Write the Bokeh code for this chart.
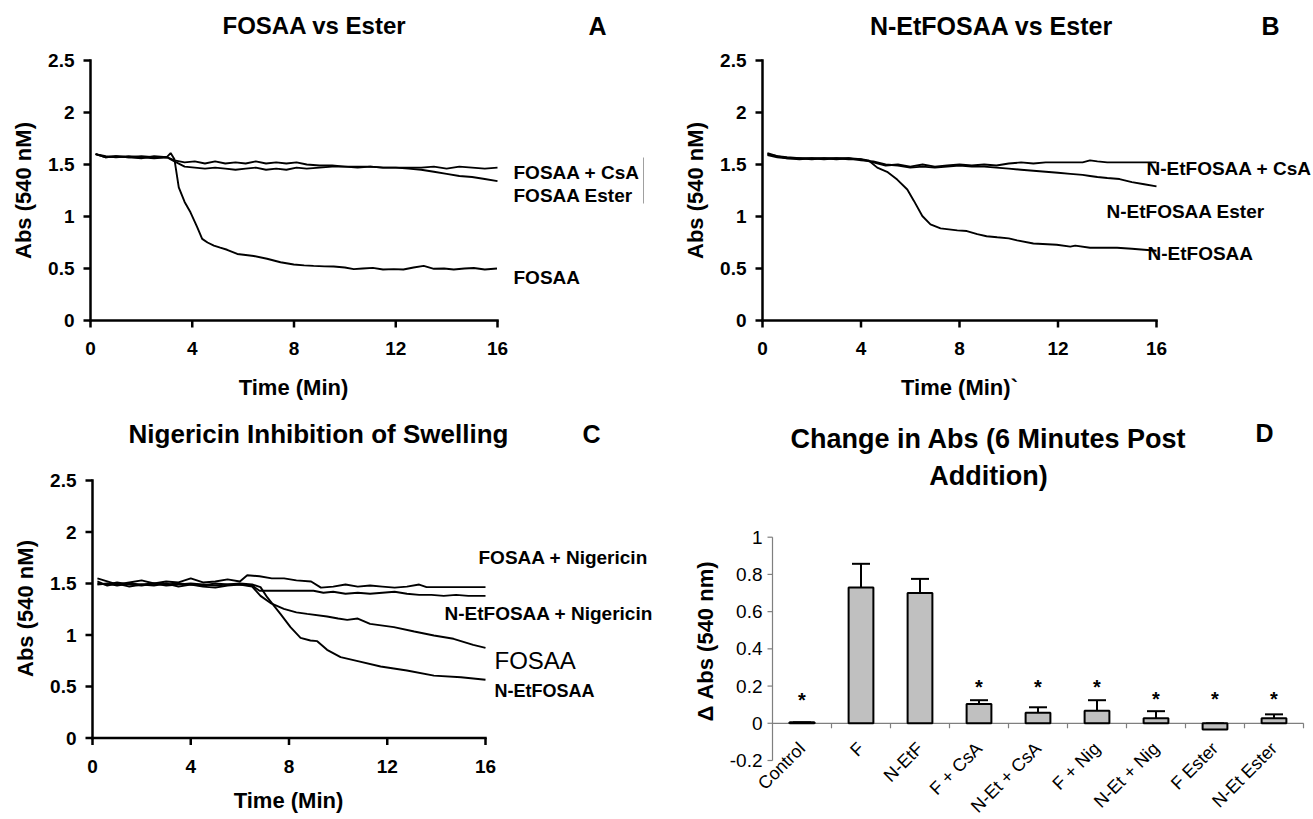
from math import pi
from bokeh.plotting import figure
from bokeh.layouts import column, row
from bokeh.models import Range1d, Label, Whisker, TeeHead, ColumnDataSource
from bokeh.core.properties import value
from bokeh.embed import file_html
from bokeh.resources import INLINE

FONT = "Liberation Sans"

# ---------------- data ----------------
x_ticks = [0, 4, 8, 12, 16]
x_tick_labels = ["0", "4", "8", "12", "16"]
y_ticks = [0, 0.5, 1, 1.5, 2, 2.5]
y_tick_labels = ["0", "0.5", "1", "1.5", "2", "2.5"]

# Panel A: FOSAA vs Ester
a_fosaa_t = [0.2, 0.6, 1.0, 1.5, 2.0, 2.5, 3.0, 3.15, 3.3, 3.47, 3.7, 3.93, 4.19, 4.39, 4.6,
             4.85, 5.1, 5.37, 5.77, 6.1, 6.42, 6.94, 7.47, 7.99, 8.4, 8.77, 9.2, 9.56, 10.0,
             10.35, 10.7, 11.1, 11.5, 11.92, 12.3, 12.7, 13.1, 13.5, 13.9, 14.28, 14.7, 15.07,
             15.5, 15.98]
a_fosaa_v = [1.60, 1.57, 1.58, 1.57, 1.58, 1.57, 1.57, 1.61, 1.55, 1.28, 1.14, 1.04, 0.90, 0.785,
             0.75, 0.72, 0.70, 0.68, 0.64, 0.63, 0.62, 0.594, 0.56, 0.538, 0.53, 0.525, 0.52,
             0.519, 0.51, 0.494, 0.50, 0.506, 0.49, 0.494, 0.49, 0.51, 0.525, 0.497, 0.50, 0.49,
             0.50, 0.505, 0.49, 0.50]
a_t = [0.2, 0.6, 1.0, 1.5, 2.0, 2.5, 3.0, 3.3, 3.7, 4.1, 4.5, 4.9, 5.3, 5.7, 6.1, 6.5, 6.9, 7.3,
       7.7, 8.1, 8.5, 9.0, 9.5, 10.0, 10.5, 11.0, 11.5, 12.0, 12.5, 13.0, 13.5, 14.0, 14.5, 15.0,
       15.5, 16.0]
a_csa_v = [1.60, 1.57, 1.58, 1.57, 1.56, 1.58, 1.57, 1.54, 1.52, 1.53, 1.51, 1.53, 1.51, 1.52,
           1.51, 1.53, 1.51, 1.52, 1.51, 1.52, 1.50, 1.49, 1.49, 1.48, 1.48, 1.48, 1.47, 1.47,
           1.47, 1.47, 1.48, 1.46, 1.48, 1.47, 1.46, 1.47]
a_ester_v = [1.60, 1.58, 1.57, 1.58, 1.57, 1.56, 1.57, 1.53, 1.48, 1.47, 1.46, 1.47, 1.46, 1.45,
             1.46, 1.47, 1.45, 1.46, 1.45, 1.47, 1.46, 1.47, 1.48, 1.48, 1.47, 1.48, 1.47, 1.47,
             1.46, 1.45, 1.43, 1.41, 1.39, 1.38, 1.36, 1.34]

# Panel B: N-EtFOSAA vs Ester
b_netf_t = [0.2, 0.6, 1.0, 1.5, 2.0, 2.5, 3.0, 3.5, 4.0, 4.3, 4.66, 5.06, 5.47, 5.88, 6.15, 6.49,
            6.82, 7.23, 7.91, 8.3, 8.72, 9.1, 9.53, 10.0, 10.34, 11.0, 11.95, 12.5, 12.7, 13.3,
            14.4, 15.0, 15.5, 16.0]
b_netf_v = [1.60, 1.58, 1.56, 1.56, 1.56, 1.56, 1.56, 1.56, 1.55, 1.54, 1.47, 1.43, 1.355, 1.26,
            1.15, 1.005, 0.925, 0.886, 0.867, 0.86, 0.83, 0.81, 0.80, 0.79, 0.77, 0.74, 0.728,
            0.71, 0.72, 0.70, 0.70, 0.69, 0.68, 0.67]
b_t = [0.2, 0.6, 1.0, 1.5, 2.0, 2.5, 3.0, 3.5, 4.0, 4.5, 5.0, 5.5, 6.0, 6.5, 7.0, 7.5, 8.0, 8.5,
       9.0, 9.5, 10.0, 10.5, 11.0, 11.5, 12.0, 12.5, 13.0, 13.3, 13.6, 14.0, 14.5, 15.0, 15.5,
       16.0]
b_csa_v = [1.59, 1.57, 1.56, 1.55, 1.56, 1.55, 1.56, 1.55, 1.55, 1.52, 1.49, 1.50, 1.48, 1.50,
           1.48, 1.49, 1.50, 1.49, 1.50, 1.49, 1.51, 1.52, 1.51, 1.52, 1.52, 1.52, 1.52, 1.54,
           1.53, 1.52, 1.52, 1.52, 1.52, 1.52]
b_ester_v = [1.61, 1.58, 1.57, 1.56, 1.55, 1.56, 1.55, 1.56, 1.54, 1.53, 1.50, 1.49, 1.47, 1.48,
             1.47, 1.48, 1.49, 1.48, 1.48, 1.47, 1.46, 1.45, 1.44, 1.43, 1.42, 1.41, 1.40, 1.39,
             1.38, 1.37, 1.36, 1.33, 1.31, 1.29]

# Panel C: Nigericin inhibition of swelling
c_fnig_t = [0.2, 0.6, 1.0, 1.5, 2.0, 2.5, 3.0, 3.5, 4.0, 4.5, 5.0, 5.5, 6.0, 6.3, 6.8, 7.3, 7.8,
            8.3, 8.9, 9.3, 9.8, 10.3, 10.8, 11.3, 11.8, 12.3, 12.8, 13.3, 13.6, 16.0]
c_fnig_v = [1.55, 1.52, 1.49, 1.51, 1.53, 1.50, 1.52, 1.51, 1.55, 1.51, 1.52, 1.54, 1.52, 1.58,
            1.57, 1.55, 1.55, 1.53, 1.52, 1.46, 1.47, 1.49, 1.47, 1.48, 1.47, 1.46, 1.47, 1.49,
            1.465, 1.465]
c_nnig_t = [0.2, 0.6, 1.0, 1.5, 2.0, 2.5, 3.0, 3.5, 4.0, 4.5, 5.0, 5.5, 6.0, 6.5, 6.8, 9.0, 9.4,
            9.8, 10.3, 10.8, 11.3, 11.8, 12.3, 12.8, 13.3, 13.8, 14.3, 14.8, 15.3, 16.0]
c_nnig_v = [1.52, 1.48, 1.50, 1.47, 1.49, 1.48, 1.50, 1.47, 1.49, 1.47, 1.46, 1.48, 1.49, 1.48,
            1.43, 1.43, 1.41, 1.42, 1.40, 1.41, 1.40, 1.41, 1.42, 1.40, 1.39, 1.39, 1.38, 1.39,
            1.38, 1.38]
c_fosaa_t = [0.2, 0.6, 1.0, 1.5, 2.0, 2.5, 3.0, 3.5, 4.0, 4.5, 5.0, 5.5, 6.0, 6.5, 6.84, 7.25,
             7.79, 8.3, 8.74, 9.55, 10.0, 10.37, 10.8, 11.3, 12.27, 13.1, 13.9, 14.7, 15.5, 16.0]
c_fosaa_v = [1.50, 1.49, 1.51, 1.49, 1.48, 1.50, 1.49, 1.50, 1.49, 1.48, 1.50, 1.49, 1.49, 1.47,
             1.38, 1.31, 1.254, 1.22, 1.205, 1.18, 1.16, 1.147, 1.16, 1.108, 1.076, 1.034, 0.995,
             0.963, 0.904, 0.875]
c_netf_t = [0.2, 0.6, 1.0, 1.5, 2.0, 2.5, 3.0, 3.5, 4.0, 4.5, 5.0, 5.5, 6.0, 6.5, 6.84, 7.11,
            7.65, 8.06, 8.47, 8.87, 9.15, 9.55, 10.1, 10.8, 11.73, 12.8, 13.9, 15.0, 16.0]
c_netf_v = [1.49, 1.50, 1.48, 1.50, 1.49, 1.50, 1.48, 1.49, 1.50, 1.49, 1.48, 1.49, 1.50, 1.49,
            1.465, 1.367, 1.205, 1.076, 0.972, 0.947, 0.94, 0.856, 0.785, 0.746, 0.694, 0.655,
            0.606, 0.59, 0.565]

# Panel D: change in Abs (6 minutes post addition)
d_categories = ["Control", "F", "N-EtF", "F + CsA", "N-Et + CsA", "F + Nig", "N-Et + Nig",
                "F Ester", "N-Et Ester"]
d_values = [0.005, 0.73, 0.70, 0.104, 0.056, 0.067, 0.027, -0.034, 0.027]
d_errors = [0.0, 0.127, 0.076, 0.02, 0.03, 0.057, 0.038, 0.034, 0.021]
d_star_y = [0.125, float("nan"), float("nan"), 0.195, 0.195, 0.195, 0.13, 0.13, 0.13]
d_y_ticks = [-0.2, 0, 0.2, 0.4, 0.6, 0.8, 1]
d_y_tick_labels = ["-0.2", "0", "0.2", "0.4", "0.6", "0.8", "1"]


# ---------------- helpers ----------------
def panel(W, H, ox, oy, px_a, px_b, va, vb, py_a, py_b, wa, wb):
    """Figure whose frame fills the canvas; data va/vb sit at page x px_a/px_b,
    data wa/wb at page y py_a/py_b.  Returns figure and page->data converters."""
    sx = (px_b - px_a) / (vb - va)
    sy = (py_a - py_b) / (wb - wa)
    x0 = va - (px_a - ox) / sx
    x1 = vb + (ox + W - px_b) / sx
    y0 = wa - (oy + H - py_a) / sy
    y1 = wb + (py_b - oy) / sy
    p = figure(width=W, height=H, x_range=Range1d(x0, x1), y_range=Range1d(y0, y1),
               x_axis_type=None, y_axis_type=None, min_border=0,
               output_backend="svg", toolbar_location=None)
    p.outline_line_color = None
    p.background_fill_color = "white"
    p.border_fill_color = "white"

    def X(px):
        return x0 + (px - ox) / sx

    def Y(py):
        return y1 - (py - oy) / sy
    return p, X, Y


def add_text(p, x, y, text, size, align="left", style="bold", angle=0.0):
    p.add_layout(Label(x=x, y=y, text=text, text_font=FONT, text_font_size=size,
                       text_font_style=style, text_align=align, text_baseline="middle",
                       text_color="black", angle=angle))


def line_axes(p, X, Y, xlab_py, ylab_px, xtitle, xtitle_pos, ytitle_pos):
    n_x, n_y = len(x_ticks), len(y_ticks)
    p.segment(x0=[x_ticks[0], x_ticks[0]], y0=[y_ticks[0], y_ticks[0]],
              x1=[x_ticks[-1], x_ticks[0]], y1=[y_ticks[0], y_ticks[-1]],
              line_color="black", line_width=2.5, line_cap="square")
    p.ray(x=x_ticks, y=[y_ticks[0]] * n_x, length=7, length_units="screen",
          angle=-pi / 2, line_color="black", line_width=2.5)
    p.ray(x=[x_ticks[0]] * n_y, y=y_ticks, length=7, length_units="screen",
          angle=pi, line_color="black", line_width=2.5)
    p.text(x=x_ticks, y=[Y(xlab_py)] * n_x, text=x_tick_labels, text_font=value(FONT),
           text_font_size="19px", text_font_style="bold", text_align="center",
           text_baseline="middle", text_color="black")
    p.text(x=[X(ylab_px)] * n_y, y=y_ticks, text=y_tick_labels, text_font=value(FONT),
           text_font_size="19px", text_font_style="bold", text_align="right",
           text_baseline="middle", text_color="black")
    add_text(p, X(xtitle_pos[0]), Y(xtitle_pos[1]), xtitle, "22px", "center")
    add_text(p, X(ytitle_pos[0]), Y(ytitle_pos[1]), "Abs (540 nM)", "22px", "center",
             angle=pi / 2)


LW = 1.9

# ---------------- Panel A ----------------
pA, XA, YA = panel(660, 408, 0, 0, 90, 497, 0, 16, 320, 60, 0, 2.5)
line_axes(pA, XA, YA, 348, 74, "Time (Min)", (293, 387), (23, 190))
pA.line(a_fosaa_t, a_fosaa_v, line_color="black", line_width=LW)
pA.line(a_t, a_csa_v, line_color="black", line_width=LW)
pA.line(a_t, a_ester_v, line_color="black", line_width=LW)
add_text(pA, XA(314), YA(25), "FOSAA vs Ester", "24px", "center")
add_text(pA, XA(597), YA(25), "A", "25px", "center")
add_text(pA, XA(513), YA(172), "FOSAA + CsA", "19px")
add_text(pA, XA(513), YA(195), "FOSAA Ester", "19px")
add_text(pA, XA(513), YA(277), "FOSAA", "19px")
# thin box edge next to the labels
pA.segment(x0=[XA(643)], y0=[YA(157)], x1=[XA(643)], y1=[YA(203)],
           line_color="#a0a0a0", line_width=1)

# ---------------- Panel B ----------------
pB, XB, YB = panel(653, 408, 660, 0, 762, 1156, 0, 16, 320, 60, 0, 2.5)
line_axes(pB, XB, YB, 348, 746, "Time (Min)`", (959, 387), (695, 190))
pB.line(b_netf_t, b_netf_v, line_color="black", line_width=LW)
pB.line(b_t, b_csa_v, line_color="black", line_width=LW)
pB.line(b_t, b_ester_v, line_color="black", line_width=LW)
add_text(pB, XB(991), YB(25), "N-EtFOSAA vs Ester", "25px", "center")
add_text(pB, XB(1270), YB(25), "B", "25px", "center")
add_text(pB, XB(1146), YB(168), "N-EtFOSAA + CsA", "19px")
add_text(pB, XB(1106), YB(211), "N-EtFOSAA Ester", "19px")
add_text(pB, XB(1147), YB(253), "N-EtFOSAA", "19px")

# ---------------- Panel C ----------------
pC, XC, YC = panel(660, 411, 0, 408, 92, 485, 0, 16, 737.5, 480, 0, 2.5)
line_axes(pC, XC, YC, 766, 76, "Time (Min)", (288, 800), (25, 608))
pC.line(c_fnig_t, c_fnig_v, line_color="black", line_width=LW)
pC.line(c_nnig_t, c_nnig_v, line_color="black", line_width=LW)
pC.line(c_fosaa_t, c_fosaa_v, line_color="black", line_width=LW)
pC.line(c_netf_t, c_netf_v, line_color="black", line_width=LW)
add_text(pC, XC(318), YC(433), "Nigericin Inhibition of Swelling", "26px", "center")
add_text(pC, XC(591), YC(433), "C", "25px", "center")
add_text(pC, XC(478), YC(557), "FOSAA + Nigericin", "19px")
add_text(pC, XC(444), YC(613), "N-EtFOSAA + Nigericin", "19px")
add_text(pC, XC(494), YC(660), "FOSAA", "24px", style="normal")
add_text(pC, XC(494), YC(690), "N-EtFOSAA", "18px")

# ---------------- Panel D ----------------
pD, XD, YD = panel(653, 411, 660, 408, 772, 1303, 0, len(d_categories),
                   760, 536.7, d_y_ticks[0], d_y_ticks[-1])
d_pos = [i + 0.5 for i in range(len(d_categories))]
d_bounds = [i + 1 for i in range(len(d_categories))]
d_upper = [v + e for v, e in zip(d_values, d_errors)]
GRAY = "#7f7f7f"

# axes
pD.segment(x0=[0, 0], y0=[0, d_y_ticks[0]], x1=[len(d_categories), 0], y1=[0, d_y_ticks[-1]],
           line_color=GRAY, line_width=1.2)
pD.ray(x=[0] * len(d_y_ticks), y=d_y_ticks, length=5, length_units="screen", angle=pi,
       line_color=GRAY, line_width=1.2)
pD.ray(x=d_bounds, y=[0] * len(d_bounds), length=5, length_units="screen", angle=-pi / 2,
       line_color=GRAY, line_width=1.2)
pD.text(x=[XD(762)] * len(d_y_ticks), y=d_y_ticks, text=d_y_tick_labels,
        text_font=value(FONT), text_font_size="19px", text_align="right",
        text_baseline="middle", text_color="black")
pD.text(x=d_pos, y=[YD(745)] * len(d_pos), text=d_categories, text_font=value(FONT),
        text_font_size="18px", text_align="right", text_baseline="middle",
        text_color="black", angle=pi / 4)
add_text(pD, XD(705), YD(641), "Δ Abs (540 nm)", "22px", "center", angle=pi / 2)

# bars, error bars, stars
d_src = ColumnDataSource(dict(pos=d_pos, values=d_values, upper=d_upper, star_y=d_star_y,
                              star=["*"] * len(d_pos)))
pD.vbar(x="pos", top="values", bottom=0, width=0.42, source=d_src,
        fill_color="#c0c0c0", line_color="black", line_width=2)
pD.add_layout(Whisker(source=d_src, base="pos", upper="upper", lower="values",
                      dimension="height", line_color="black", line_width=2,
                      upper_head=TeeHead(size=18, line_width=2, line_color="black"),
                      lower_head=None))
pD.text(x="pos", y="star_y", text="star", source=d_src, text_font=value(FONT),
        text_font_size="20px", text_font_style="bold", text_align="center",
        text_baseline="middle", text_color="black")

add_text(pD, XD(988), YD(438), "Change in Abs (6 Minutes Post", "27px", "center")
add_text(pD, XD(988), YD(475), "Addition)", "27px", "center")
add_text(pD, XD(1264), YD(432), "D", "25px", "center")

layout = column(row(pA, pB), row(pC, pD))

with open("out.html", "w") as f:
    f.write(file_html(layout, INLINE))
